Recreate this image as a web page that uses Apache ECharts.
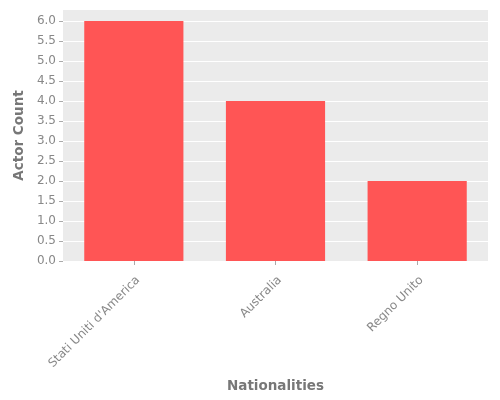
<!DOCTYPE html>
<html lang="en">
<head>
    <meta charset="UTF-8">
    <title>Actor Count</title>
    <style>
        html, body { margin: 0; padding: 0; background: #fff; }
        #chart { width: 500px; height: 400px; }
    </style>
    <script src="https://cdn.jsdelivr.net/npm/echarts@6/dist/echarts.min.js"></script>
</head>
<body>
    <div id="chart"></div>
    <script>
        const nationalities = ["Stati Uniti d'America", "Australia", "Regno Unito"];
        const actorCounts = [6, 4, 2];
        const yTicks = [0, 0.5, 1, 1.5, 2, 2.5, 3, 3.5, 4, 4.5, 5, 5.5, 6];

        const gray = '#888';
        let inst = echarts.init(document.getElementById('chart'));
        inst.setOption({
            animation: false,
            grid: {
                left: 63, right: 12, top: 10, bottom: 139,
                show: true, backgroundColor: '#ebebeb', borderWidth: 0
            },
            xAxis: {
                type: 'category',
                data: nationalities,
                name: 'Nationalities',
                nameLocation: 'middle',
                nameGap: 118,
                nameTextStyle: { color: '#777', fontSize: 13.5, fontWeight: 'bold', fontFamily: 'DejaVu Sans' },
                axisLine: { show: false },
                axisTick: { show: true, alignWithLabel: true, length: 4, lineStyle: { color: '#aaa' } },
                axisLabel: {
                    rotate: 45, color: gray, fontSize: 12, fontFamily: 'DejaVu Sans',
                    margin: 13, verticalAlign: 'top'
                },
                splitLine: { show: false }
            },
            yAxis: {
                type: 'value',
                min: 0,
                max: 6.275,
                interval: 0.5,
                name: 'Actor Count',
                nameLocation: 'middle',
                nameGap: 35,
                nameTextStyle: { color: '#777', fontSize: 13.5, fontWeight: 'bold', fontFamily: 'DejaVu Sans' },
                axisLine: { show: false },
                axisTick: { show: true, length: 4, lineStyle: { color: '#aaa' }, customValues: yTicks },
                axisLabel: {
                    color: gray, fontSize: 12, fontFamily: 'DejaVu Sans', margin: 7,
                    customValues: yTicks,
                    formatter: v => v.toFixed(1)
                },
                splitLine: { show: true, lineStyle: { color: '#fff', width: 1 } }
            },
            series: [{
                type: 'bar',
                data: actorCounts,
                barWidth: '70%',
                itemStyle: { color: '#ff5555' }
            }]
        });
    </script>
</body>
</html>
